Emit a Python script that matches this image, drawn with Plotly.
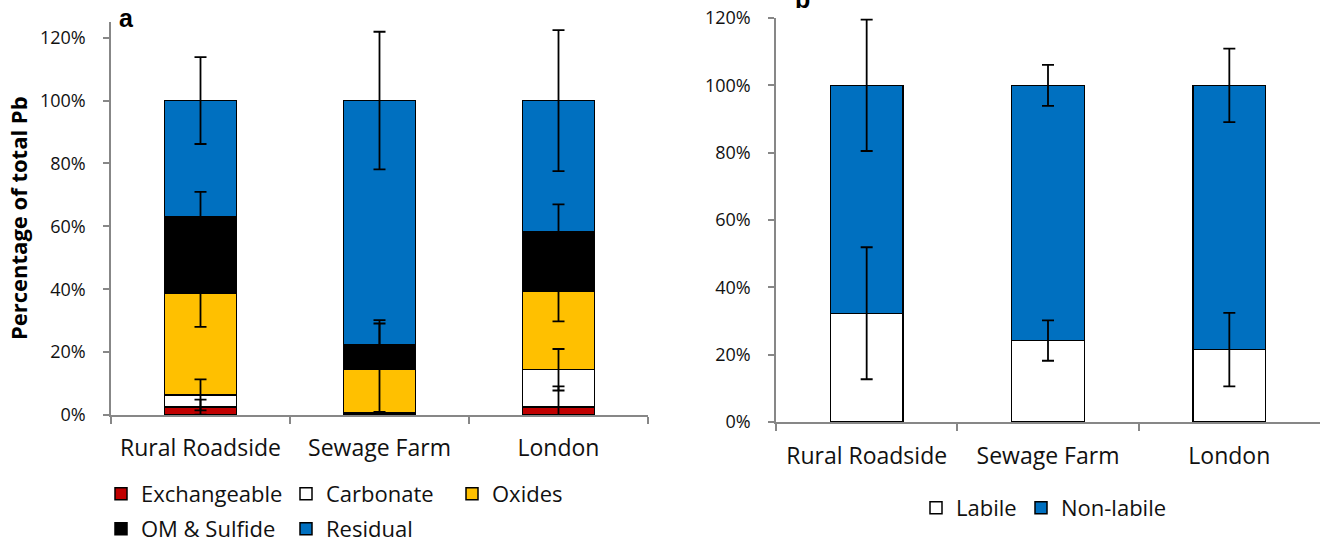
import numpy as np
import plotly.graph_objects as go

W, H = 1327, 548

categories = ["Rural Roadside", "Sewage Farm", "London"]

# Panel a: Pb fractionation (% of total Pb) with error bars
exchangeable = [2.5, 0.2, 2.6]
exchangeable_err = [2.4, 0.2, 6.5]
carbonate = [3.9, 0.5, 11.8]
carbonate_err = [4.9, 0.3, 6.6]
oxides = [32.2, 13.9, 25.1]
oxides_err = [10.6, 14.5, 9.7]
om_sulfide = [24.4, 7.9, 18.7]
om_sulfide_err = [8.0, 7.7, 8.8]
residual = [37.0, 77.5, 41.8]
residual_err = [13.8, 21.9, 22.4]

# Panel b: labile / non-labile Pb
labile = [32.3, 24.2, 21.5]
labile_err = [19.6, 6.0, 10.9]
nonlabile = [67.7, 75.8, 78.5]
nonlabile_err = [19.5, 6.1, 10.9]

y_tick_vals = [0, 20, 40, 60, 80, 100, 120]
y_tick_text = ["0%", "20%", "40%", "60%", "80%", "100%", "120%"]

FONT = "Open Sans"
AXIS_GREY = "#878787"


def px_x(p):
    return p / W


def px_y(p):
    return 1 - p / H


fig = go.Figure()

series_a = [
    ("Exchangeable", exchangeable, exchangeable_err, "#C00000", "legend"),
    ("Carbonate", carbonate, carbonate_err, "#FFFFFF", "legend2"),
    ("Oxides", oxides, oxides_err, "#FFC000", "legend3"),
    ("OM & Sulfide", om_sulfide, om_sulfide_err, "#000000", "legend4"),
    ("Residual", residual, residual_err, "#0070C0", "legend5"),
]
series_b = [
    ("Labile", labile, labile_err, "#FFFFFF", "legend6"),
    ("Non-labile", nonlabile, nonlabile_err, "#0070C0", "legend7"),
]

for name, vals, _, col, lg in series_a:
    fig.add_trace(go.Bar(x=categories, y=vals, name=name, width=0.4,
                         marker=dict(color=col, line=dict(color="black", width=1.5)),
                         legend=lg, xaxis="x", yaxis="y"))
for name, vals, _, col, lg in series_b:
    fig.add_trace(go.Bar(x=categories, y=vals, name=name, width=0.4,
                         marker=dict(color=col, line=dict(color="black", width=1.5)),
                         legend=lg, xaxis="x2", yaxis="y2"))


def add_errors(series, xa, ya):
    cum = np.zeros(len(categories))
    for name, vals, err, _, _ in series:
        cum = cum + np.array(vals)
        fig.add_trace(go.Scatter(
            x=categories, y=cum.tolist(), mode="markers",
            marker=dict(size=1, color="rgba(0,0,0,0)"),
            error_y=dict(type="data", array=err, color="black", thickness=1.8, width=6),
            showlegend=False, hoverinfo="skip",
            xaxis=xa, yaxis=ya))


add_errors(series_a, "x", "y")
add_errors(series_b, "x2", "y2")

xcommon = dict(showline=True, linecolor=AXIS_GREY, linewidth=1.5, ticks="outside",
               tickson="boundaries", ticklen=7, tickcolor=AXIS_GREY, tickwidth=1.5,
               showgrid=False, tickfont=dict(family=FONT, size=23, color="#111"),
               fixedrange=True, automargin=False)
ycommon = dict(showline=True, linecolor=AXIS_GREY, linewidth=1.5, ticks="outside",
               ticklen=6, tickcolor=AXIS_GREY, tickwidth=1.5, showgrid=False, zeroline=False,
               tickmode="array", tickvals=y_tick_vals, ticktext=y_tick_text,
               tickfont=dict(family=FONT, size=18, color="#111"),
               ticklabelstandoff=14, fixedrange=True, automargin=False)

fig.update_layout(
    width=W, height=H,
    margin=dict(l=0, r=0, t=0, b=0, autoexpand=False),
    paper_bgcolor="white", plot_bgcolor="white",
    barmode="stack",
    xaxis=dict(domain=[px_x(111), px_x(648)], anchor="y", ticklabelstandoff=12, **xcommon),
    yaxis=dict(domain=[px_y(415), px_y(22)], anchor="x", range=[0, 125], **ycommon),
    xaxis2=dict(domain=[px_x(776), px_x(1320)], anchor="y2", ticklabelstandoff=13, **xcommon),
    yaxis2=dict(domain=[px_y(422), px_y(18)], anchor="x2", range=[0, 120], **ycommon),
)

leg_font = dict(family=FONT, size=22, color="#111")
legend_pos = {
    "legend": (101, 494),
    "legend2": (286, 494),
    "legend3": (452, 494),
    "legend4": (101, 529),
    "legend5": (286, 529),
    "legend6": (916, 508),
    "legend7": (1021, 508),
}
for key, (lx, ly) in legend_pos.items():
    fig.update_layout({key: dict(x=px_x(lx), y=px_y(ly), xanchor="left", yanchor="middle",
                                 orientation="h", font=leg_font, bgcolor="rgba(0,0,0,0)",
                                 borderwidth=0)})

fig.add_annotation(text="<b>a</b>", x=px_x(117), y=px_y(2), xref="paper", yref="paper",
                   xanchor="left", yanchor="top", showarrow=False,
                   font=dict(family="Liberation Sans", size=25, color="black"))
fig.add_annotation(text="<b>b</b>", x=px_x(793), y=px_y(15), xref="paper", yref="paper",
                   xanchor="left", yanchor="bottom", showarrow=False,
                   font=dict(family="Liberation Sans", size=25, color="black"))
fig.add_annotation(text="<b>Percentage of total Pb</b>", x=px_x(18), y=px_y(218),
                   xref="paper", yref="paper", textangle=-90, showarrow=False,
                   xanchor="center", yanchor="middle",
                   font=dict(family=FONT, size=22, color="black"))

fig.write_html("out.html", config={"displayModeBar": False},
               post_script="document.body.style.margin='0px';")
